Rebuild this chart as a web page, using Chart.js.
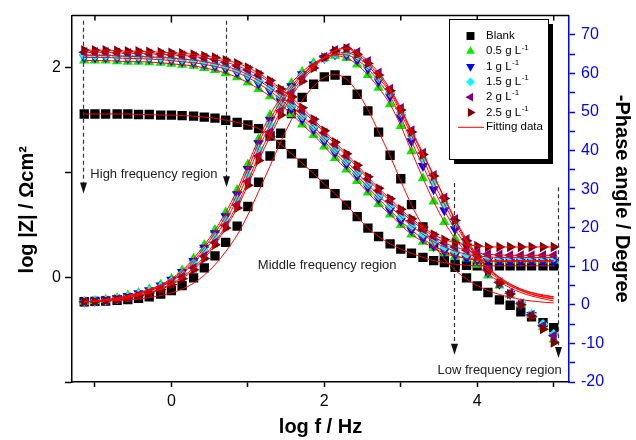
<!DOCTYPE html>
<html>
<head>
<meta charset="utf-8">
<title>Bode plot</title>
<script src="https://cdn.jsdelivr.net/npm/chart.js@4.4.1/dist/chart.umd.min.js"></script>
<style>
  html, body { margin: 0; padding: 0; background: #fff; }
  #wrap { width: 636px; height: 440px; }
</style>
</head>
<body>
<div id="wrap"><canvas id="bode" width="636" height="440"></canvas></div>
<script>
// --- data: log f grid, 7 points per decade ---
const logF = [-1.14, -1.00, -0.86, -0.71, -0.57, -0.43, -0.29, -0.14, 0.00, 0.14, 0.29, 0.43, 0.57, 0.71, 0.86,
  1.00, 1.14, 1.29, 1.43, 1.57, 1.71, 1.86, 2.00, 2.14, 2.29, 2.43, 2.57, 2.71, 2.86,
  3.00, 3.14, 3.29, 3.43, 3.57, 3.71, 3.86, 4.00, 4.14, 4.29, 4.43, 4.57, 4.71, 4.86, 5.00];

// log |Z| (left axis)
const zBlank = [1.56, 1.56, 1.56, 1.56, 1.56, 1.555, 1.555, 1.55, 1.55, 1.545, 1.54, 1.53, 1.52, 1.50, 1.48, 1.455,
  1.42, 1.35, 1.27, 1.18, 1.09, 0.99, 0.89, 0.80, 0.69, 0.58, 0.47, 0.39, 0.32, 0.27,
  0.23, 0.19, 0.16, 0.14, 0.125, 0.115, 0.11, 0.11, 0.11, 0.11, 0.11, 0.11, 0.11, 0.11];
const zG05 = [2.07, 2.07, 2.07, 2.065, 2.06, 2.06, 2.055, 2.05, 2.04, 2.03, 2.02, 2.00, 1.98, 1.95, 1.91, 1.86,
  1.80, 1.73, 1.65, 1.56, 1.46, 1.36, 1.25, 1.14, 1.03, 0.92, 0.81, 0.70, 0.60, 0.50,
  0.41, 0.34, 0.28, 0.23, 0.20, 0.18, 0.17, 0.165, 0.16, 0.16, 0.16, 0.16, 0.16, 0.16];
const zG1 = [2.10, 2.10, 2.10, 2.095, 2.09, 2.09, 2.085, 2.08, 2.07, 2.06, 2.05, 2.035, 2.015, 1.99, 1.955, 1.91,
  1.85, 1.78, 1.70, 1.61, 1.51, 1.41, 1.30, 1.19, 1.08, 0.97, 0.86, 0.75, 0.64, 0.54,
  0.45, 0.37, 0.30, 0.25, 0.21, 0.18, 0.165, 0.155, 0.15, 0.15, 0.15, 0.15, 0.15, 0.15];
const zG15 = [2.12, 2.12, 2.12, 2.115, 2.11, 2.11, 2.105, 2.10, 2.095, 2.085, 2.075, 2.06, 2.04, 2.015, 1.98, 1.935,
  1.88, 1.81, 1.73, 1.64, 1.54, 1.44, 1.33, 1.22, 1.11, 1.00, 0.89, 0.78, 0.68, 0.58,
  0.49, 0.41, 0.34, 0.29, 0.25, 0.22, 0.205, 0.195, 0.19, 0.19, 0.19, 0.19, 0.19, 0.19];
const zG2 = [2.15, 2.15, 2.15, 2.145, 2.14, 2.14, 2.135, 2.13, 2.125, 2.12, 2.11, 2.095, 2.08, 2.055, 2.02, 1.98,
  1.93, 1.86, 1.78, 1.69, 1.59, 1.49, 1.38, 1.27, 1.16, 1.05, 0.94, 0.83, 0.73, 0.63,
  0.54, 0.46, 0.39, 0.33, 0.29, 0.26, 0.235, 0.22, 0.215, 0.21, 0.21, 0.21, 0.21, 0.21];
const zG25 = [2.17, 2.17, 2.17, 2.165, 2.16, 2.16, 2.155, 2.15, 2.145, 2.14, 2.13, 2.115, 2.10, 2.075, 2.045, 2.005,
  1.95, 1.88, 1.80, 1.72, 1.62, 1.51, 1.40, 1.29, 1.18, 1.07, 0.96, 0.85, 0.75, 0.65,
  0.56, 0.48, 0.41, 0.36, 0.33, 0.31, 0.30, 0.29, 0.29, 0.29, 0.29, 0.29, 0.29, 0.29];

// -phase angle in degrees (right axis)
const phBlank = [0.8, 0.9, 1.0, 1.2, 1.4, 1.7, 2.1, 2.8, 3.7, 5.0, 7.0, 9.6, 12.7, 16.2, 20.4, 25.5,
  31.8, 38.6, 44.5, 49.6, 53.8, 57.2, 59.1, 59.6, 58.2, 54.6, 50.3, 44.8, 38.8, 32.7,
  26.0, 20.2, 15.8, 12.3, 9.7, 7.0, 4.9, 3.2, 1.3, -0.1, -1.8, -3.1, -4.6, -5.9];
const phG05 = [0.8, 1.0, 1.3, 1.8, 2.4, 3.1, 4.0, 5.2, 6.8, 8.9, 12.0, 15.5, 19.4, 24.0, 29.8, 36.4,
  43.0, 49.2, 53.8, 57.5, 60.4, 62.7, 64.0, 64.6, 64.0, 62.3, 59.6, 56.3, 52.0, 46.4,
  39.8, 32.8, 26.8, 21.5, 17.2, 13.5, 10.4, 7.6, 5.0, 2.6, 0.2, -2.6, -5.8, -9.0];
const phG1 = [0.8, 1.0, 1.3, 1.7, 2.3, 3.0, 3.8, 5.0, 6.5, 8.5, 11.4, 14.8, 18.6, 23.0, 28.7, 35.2,
  41.9, 47.9, 52.8, 56.7, 59.8, 62.3, 64.0, 64.9, 64.8, 63.5, 61.2, 58.0, 54.0, 48.6,
  42.4, 36.0, 30.0, 24.5, 19.6, 15.2, 11.6, 8.4, 5.5, 2.8, 0.0, -2.6, -5.2, -8.0];
const phG15 = [0.8, 1.0, 1.2, 1.6, 2.1, 2.8, 3.6, 4.7, 6.1, 8.0, 10.8, 14.0, 17.6, 21.9, 27.4, 33.8,
  40.5, 46.6, 51.8, 56.0, 59.4, 62.1, 64.0, 65.1, 65.4, 64.3, 62.0, 58.9, 55.0, 49.8,
  43.9, 37.8, 31.8, 26.2, 21.0, 16.2, 12.3, 8.8, 5.8, 3.0, 0.4, -2.4, -5.0, -7.6];
const phG2 = [0.8, 0.9, 1.1, 1.5, 1.9, 2.5, 3.2, 4.2, 5.5, 7.2, 9.6, 12.6, 16.2, 20.6, 25.9, 32.0,
  38.6, 44.8, 50.3, 54.9, 58.7, 61.8, 64.3, 66.0, 66.6, 65.5, 63.2, 60.2, 56.0, 51.0,
  45.2, 39.4, 33.6, 27.8, 22.2, 17.0, 12.8, 9.0, 5.8, 3.0, 0.3, -2.6, -5.4, -8.0];
const phG25 = [0.8, 0.9, 1.1, 1.4, 1.8, 2.4, 3.1, 4.0, 5.2, 6.8, 9.1, 12.0, 15.6, 19.9, 25.1, 31.0,
  37.4, 43.6, 49.2, 54.0, 58.0, 61.4, 64.1, 65.9, 66.5, 65.0, 62.6, 59.6, 55.5, 50.5,
  44.8, 39.0, 33.4, 27.6, 21.9, 16.6, 12.5, 8.8, 5.6, 2.8, 0.0, -3.0, -6.3, -9.8];

// equivalent-circuit fits of the phase (they level off near 0 at high f)
const fitPhBlank = [0.8, 0.9, 1.0, 1.1, 1.3, 1.5, 1.9, 2.4, 3.1, 4.1, 5.6, 7.7, 10.4, 13.8, 18.1, 23.3,
  29.4, 36.0, 42.3, 48.0, 52.9, 56.7, 59.0, 59.7, 58.5, 55.2, 50.6, 44.9, 38.6, 32.1,
  25.9, 20.3, 15.6, 11.9, 9.0, 6.7, 5.0, 3.7, 2.7, 2.0, 1.4, 1.0, 0.7, 0.5];
const fitPhG05 = [0.8, 1.0, 1.3, 1.8, 2.4, 3.1, 4.0, 5.2, 6.8, 8.9, 12.0, 15.5, 19.4, 24.0, 29.8, 36.4,
  43.0, 49.2, 53.8, 57.5, 60.4, 62.7, 64.0, 64.6, 64.0, 62.3, 59.6, 56.3, 52.0, 46.4,
  39.8, 32.8, 26.8, 21.5, 17.2, 13.5, 10.5, 8.0, 6.0, 4.4, 3.2, 2.3, 1.6, 1.0];
const fitPhG1 = [0.8, 1.0, 1.3, 1.7, 2.3, 3.0, 3.8, 5.0, 6.5, 8.5, 11.4, 14.8, 18.6, 23.0, 28.7, 35.2,
  41.9, 47.9, 52.8, 56.7, 59.8, 62.3, 64.0, 64.9, 64.8, 63.5, 61.2, 58.0, 54.0, 48.6,
  42.4, 36.0, 30.0, 24.5, 19.6, 15.2, 11.7, 8.8, 6.6, 4.9, 3.7, 2.7, 2.0, 1.5];
const fitPhG15 = [0.8, 1.0, 1.2, 1.6, 2.1, 2.8, 3.6, 4.7, 6.1, 8.0, 10.8, 14.0, 17.6, 21.9, 27.4, 33.8,
  40.5, 46.6, 51.8, 56.0, 59.4, 62.1, 64.0, 65.1, 65.4, 64.3, 62.0, 58.9, 55.0, 49.8,
  43.9, 37.8, 31.8, 26.2, 21.0, 16.2, 12.4, 9.3, 6.9, 5.1, 3.8, 2.8, 2.1, 1.7];
const fitPhG2 = [0.8, 0.9, 1.1, 1.5, 1.9, 2.5, 3.2, 4.2, 5.5, 7.2, 9.6, 12.6, 16.2, 20.6, 25.9, 32.0,
  38.6, 44.8, 50.3, 54.9, 58.7, 61.8, 64.3, 66.0, 66.6, 65.5, 63.2, 60.2, 56.0, 51.0,
  45.2, 39.4, 33.6, 27.8, 22.2, 17.0, 12.9, 9.7, 7.2, 5.4, 4.1, 3.1, 2.4, 2.0];
const fitPhG25 = [0.8, 0.9, 1.1, 1.4, 1.8, 2.4, 3.1, 4.0, 5.2, 6.8, 9.1, 12.0, 15.6, 19.9, 25.1, 31.0,
  37.4, 43.6, 49.2, 54.0, 58.0, 61.4, 64.1, 65.9, 66.5, 65.0, 62.6, 59.6, 55.5, 50.5,
  44.8, 39.0, 33.4, 27.6, 21.9, 16.6, 12.6, 9.5, 7.1, 5.4, 4.1, 3.2, 2.6, 2.1];

const seriesNames = ['Blank', '0.5 g L', '1 g L', '1.5 g L', '2 g L', '2.5 g L'];
const seriesSup = ['', '-1', '-1', '-1', '-1', '-1'];
const zSeries = [zBlank, zG05, zG1, zG15, zG2, zG25];
const phSeries = [phBlank, phG05, phG1, phG15, phG2, phG25];
const phFits = [fitPhBlank, fitPhG05, fitPhG1, fitPhG15, fitPhG2, fitPhG25];

// axis ticks
const xTicks = [-1, 0, 1, 2, 3, 4, 5];
const xLabelled = [0, 2, 4];
const zTicks = [-1, 0, 1, 2];
const zLabelled = [0, 2];
const phTicks = [-20, -15, -10, -5, 0, 5, 10, 15, 20, 25, 30, 35, 40, 45, 50, 55, 60, 65, 70];
const phLabelled = [-20, -10, 0, 10, 20, 30, 40, 50, 60, 70];

// frequency-region arrows (log f, from/to in log|Z| units) and captions
const regionArrows = [
  { f: -1.15, from: 2.45, to: 0.80 },
  { f: 0.71, from: 2.45, to: 0.86 },
  { f: 3.70, from: 0.90, to: -0.74 },
  { f: 5.05, from: 0.86, to: -0.77 }
];
const regionLabels = [
  { text: 'High frequency region', f: -1.06, z: 0.98 },
  { text: 'Middle frequency region', f: 1.13, z: 0.11 },
  { text: 'Low frequency region', f: 3.48, z: -0.89 }
];

// --- styling ---
const FONT = '"Liberation Sans", Arial, Helvetica, sans-serif';
const colors = ['#000000', '#00ee00', '#0000ff', '#00ffff', '#800080', '#800000'];
const markers = [
  { style: 'rect', rotation: 0, radius: 6.6 },
  { style: 'triangle', rotation: 0, radius: 6 },
  { style: 'triangle', rotation: 180, radius: 6 },
  { style: 'rectRot', rotation: 0, radius: 5.2 },
  { style: 'triangle', rotation: 270, radius: 6 },
  { style: 'triangle', rotation: 90, radius: 6 }
];
const FIT_COLOR = '#ff0000';
const PHASE_COLOR = '#0000ff';
const Z_TITLE = 'log |Z| / Ωcm²';

Chart.defaults.font.family = FONT;
Chart.defaults.color = '#000';

function toPoints(values) {
  return logF.map((x, i) => ({ x: x, y: values[i] }));
}

function markerSet(values, k, axis) {
  return {
    label: seriesNames[k],
    data: toPoints(values),
    yAxisID: axis,
    showLine: false,
    pointStyle: markers[k].style,
    pointRotation: markers[k].rotation,
    pointRadius: markers[k].radius,
    pointBackgroundColor: colors[k],
    pointBorderColor: colors[k],
    pointBorderWidth: 0,
    order: 10 - k
  };
}

function fitSet(values, axis) {
  return {
    label: 'Fitting data',
    data: toPoints(values),
    yAxisID: axis,
    showLine: true,
    borderColor: FIT_COLOR,
    borderWidth: 1,
    pointRadius: 0,
    cubicInterpolationMode: 'monotone',
    fill: false,
    order: 0
  };
}

const datasets = [];
zSeries.forEach((vals, k) => datasets.push(markerSet(vals, k, 'y')));
phSeries.forEach((vals, k) => datasets.push(markerSet(vals, k, 'y2')));
zSeries.forEach(vals => datasets.push(fitSet(vals, 'y')));
phFits.forEach(vals => datasets.push(fitSet(vals, 'y2')));

// top frame, left title, region arrows/captions and the boxed legend
const decorations = {
  id: 'decorations',
  afterDraw(chart) {
    const { ctx, chartArea: a } = chart;
    const x = chart.scales.x;
    const y = chart.scales.y;
    ctx.save();

    // top frame with inward ticks
    ctx.strokeStyle = '#000';
    ctx.lineWidth = 1.5;
    ctx.beginPath();
    ctx.moveTo(a.left, a.top);
    ctx.lineTo(a.right, a.top);
    ctx.stroke();
    xTicks.forEach(v => {
      const px = x.getPixelForValue(v);
      const len = xLabelled.includes(v) ? 7 : 5;
      ctx.beginPath();
      ctx.moveTo(px, a.top);
      ctx.lineTo(px, a.top + len);
      ctx.stroke();
    });

    // left axis title, sitting a little below the axis centre
    ctx.save();
    ctx.translate(27, a.top + (a.bottom - a.top) * 0.53);
    ctx.rotate(-Math.PI / 2);
    ctx.fillStyle = '#000';
    ctx.font = 'bold 20px ' + FONT;
    ctx.textAlign = 'center';
    ctx.textBaseline = 'middle';
    ctx.fillText(Z_TITLE, 0, 0);
    ctx.restore();

    // dashed arrows
    regionArrows.forEach(r => {
      const px = Math.round(x.getPixelForValue(r.f)) + 0.5;
      const y0 = y.getPixelForValue(r.from);
      const y1 = y.getPixelForValue(r.to);
      ctx.strokeStyle = '#333';
      ctx.lineWidth = 1.2;
      ctx.setLineDash([4, 3]);
      ctx.beginPath();
      ctx.moveTo(px, y0);
      ctx.lineTo(px, y1 - 8);
      ctx.stroke();
      ctx.setLineDash([]);
      ctx.fillStyle = '#111';
      ctx.beginPath();
      ctx.moveTo(px, y1);
      ctx.lineTo(px - 3.5, y1 - 11);
      ctx.lineTo(px + 3.5, y1 - 11);
      ctx.closePath();
      ctx.fill();
    });

    ctx.fillStyle = '#222';
    ctx.font = '13px ' + FONT;
    ctx.textBaseline = 'middle';
    ctx.textAlign = 'left';
    regionLabels.forEach(l => {
      ctx.fillText(l.text, x.getPixelForValue(l.f), y.getPixelForValue(l.z));
    });

    // legend box with drop shadow
    const box = { left: 449, top: 19, width: 99, height: 140 };
    ctx.fillStyle = '#000';
    ctx.fillRect(box.left + 5, box.top + 5, box.width, box.height);
    ctx.fillStyle = '#fff';
    ctx.fillRect(box.left, box.top, box.width, box.height);
    ctx.strokeStyle = '#000';
    ctx.lineWidth = 1;
    ctx.strokeRect(box.left + 0.5, box.top + 0.5, box.width, box.height);

    const markX = 470.5;
    const textX = 486;
    const rowY = i => 36 + i * 15.3;
    seriesNames.forEach((name, k) => {
      const cy = rowY(k);
      ctx.fillStyle = colors[k];
      Chart.helpers.drawPoint(ctx, {
        pointStyle: markers[k].style,
        rotation: markers[k].rotation,
        radius: markers[k].radius * 0.85,
        borderWidth: 0
      }, markX, cy);
      ctx.fillStyle = '#000';
      ctx.font = '11.5px ' + FONT;
      ctx.fillText(name, textX, cy);
      if (seriesSup[k]) {
        const w = ctx.measureText(name).width;
        ctx.font = '8px ' + FONT;
        ctx.fillText(seriesSup[k], textX + w + 0.5, cy - 4);
      }
    });
    const fy = rowY(6) - 1;
    ctx.strokeStyle = FIT_COLOR;
    ctx.lineWidth = 1;
    ctx.beginPath();
    ctx.moveTo(458, fy + 0.5);
    ctx.lineTo(484, fy + 0.5);
    ctx.stroke();
    ctx.fillStyle = '#000';
    ctx.font = '11.5px ' + FONT;
    ctx.fillText('Fitting data', textX, fy);

    ctx.restore();
  }
};

new Chart(document.getElementById('bode'), {
  type: 'scatter',
  data: { datasets: datasets },
  options: {
    responsive: false,
    animation: false,
    layout: { padding: { top: 15, left: 0, right: 0, bottom: 0 } },
    plugins: {
      legend: { display: false },
      tooltip: { enabled: false }
    },
    scales: {
      x: {
        type: 'linear',
        position: 'bottom',
        min: -1.3,
        max: 5.2,
        afterBuildTicks: s => { s.ticks = xTicks.map(v => ({ value: v })); },
        afterFit: s => { s.height = 58; },
        ticks: {
          autoSkip: false,
          maxRotation: 0,
          padding: 5,
          font: { size: 16 },
          color: '#000',
          callback: v => xLabelled.includes(v) ? String(v) : ''
        },
        grid: { drawOnChartArea: false, tickLength: 5, tickColor: '#000', tickWidth: 1.5 },
        border: { color: '#000', width: 1.5 },
        title: {
          display: true,
          text: 'log f / Hz',
          color: '#000',
          font: { size: 20, weight: 'bold' },
          padding: { top: 0, bottom: 1 }
        }
      },
      y: {
        type: 'linear',
        position: 'left',
        min: -1,
        max: 2.5,
        afterBuildTicks: s => { s.ticks = zTicks.map(v => ({ value: v })); },
        afterFit: s => { s.width = 72; },
        ticks: {
          autoSkip: false,
          padding: 4,
          font: { size: 16 },
          color: '#000',
          callback: v => zLabelled.includes(v) ? String(v) : ''
        },
        grid: { drawOnChartArea: false, tickLength: 7, tickColor: '#000', tickWidth: 1.5 },
        border: { color: '#000', width: 1.5 },
        title: { display: false }
      },
      y2: {
        type: 'linear',
        position: 'right',
        min: -20,
        max: 75,
        afterBuildTicks: s => { s.ticks = phTicks.map(v => ({ value: v })); },
        afterFit: s => { s.width = 67; },
        ticks: {
          autoSkip: false,
          padding: 6,
          font: { size: 16 },
          color: PHASE_COLOR,
          callback: v => phLabelled.includes(v) ? String(v) : ''
        },
        grid: { drawOnChartArea: false, tickLength: 6, tickColor: PHASE_COLOR, tickWidth: 1.5 },
        border: { color: PHASE_COLOR, width: 1.5 },
        title: {
          display: true,
          text: '-Phase angle / Degree',
          color: '#000',
          font: { size: 20, weight: 'bold' },
          padding: { top: 2, bottom: 0 }
        }
      }
    }
  },
  plugins: [decorations]
});
</script>
</body>
</html>
